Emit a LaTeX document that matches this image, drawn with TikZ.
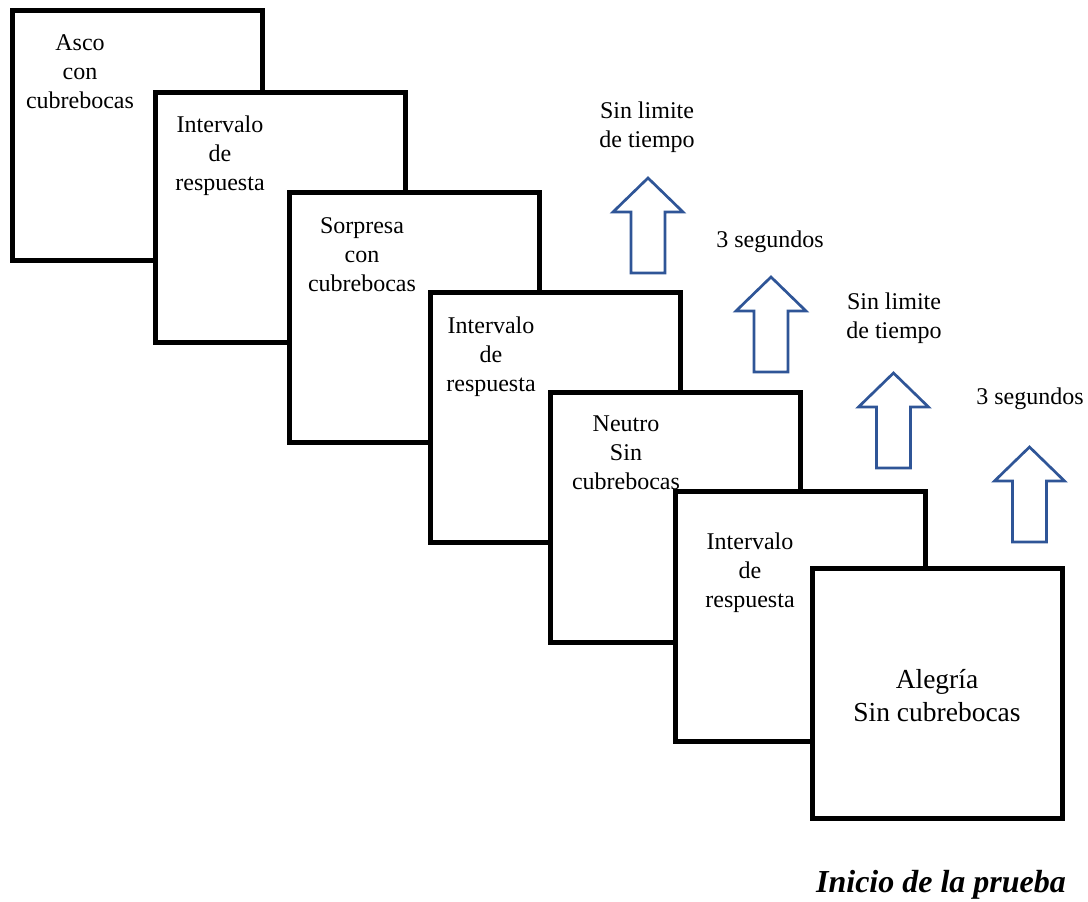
\documentclass[tikz,border=0pt]{standalone}
\usepackage{fontspec}
\setmainfont{Liberation Serif}
\definecolor{arrowblue}{RGB}{47,85,151}
\begin{document}
\begin{tikzpicture}[x=1pt,y=-1pt,
  card/.style={draw=black,fill=white,line width=5pt,minimum width=250pt,minimum height=250pt,inner sep=0pt,outer sep=0pt},
  cardtext/.style={align=center,inner sep=0pt,font=\fontsize{24}{29}\selectfont},
  bigtext/.style={align=center,inner sep=0pt,font=\fontsize{27.5}{33}\selectfont},
  lbl/.style={align=center,inner sep=0pt,font=\fontsize{24}{29}\selectfont},
  pics/uparrow/.style={code={
    \draw[arrowblue,line width=2.7pt,fill=white,line join=miter]
      (0,0) -- (35,34) -- (17,34) -- (17,95) -- (-17,95) -- (-17,34) -- (-35,34) -- cycle;
  }}
]
\useasboundingbox (0,0) rectangle (1088,902);

\node[card] (b1) at (137,135) {};
\node[cardtext] (t1) at (80,72) {Asco\\con\\cubrebocas};
\node[card] (b2) at (280,217) {};
\node[cardtext] (t2) at (220,156) {Intervalo\\de\\respuesta};
\node[card] (b3) at (414.5,317) {};
\node[cardtext] (t3) at (362,254.5) {Sorpresa\\con\\cubrebocas};
\node[card] (b4) at (555,417.5) {};
\node[cardtext] (t4) at (491,356.5) {Intervalo\\de\\respuesta};
\node[card] (b5) at (675,517) {};
\node[cardtext] (t5) at (626,452.5) {Neutro\\Sin\\cubrebocas};
\node[card] (b6) at (800.5,616) {};
\node[cardtext] (t6) at (750,572.5) {Intervalo\\de\\respuesta};
\node[card] (b7) at (937,693) {};
\node[bigtext] (t7) at (937,696) {Alegría\\Sin cubrebocas};

\pic at (648,178) {uparrow};
\pic at (771,277) {uparrow};
\pic at (893.5,373) {uparrow};
\pic at (1029.5,447) {uparrow};

\node[lbl] (l1) at (647,127.5) {Sin limite\\de tiempo};
\node[lbl,anchor=base] (l2) at (770,247.5) {3 segundos};
\node[lbl] (l3) at (894,318) {Sin limite\\de tiempo};
\node[lbl,anchor=base] (l4) at (1030,404.5) {3 segundos};

\node[inner sep=0pt,anchor=base,font=\fontsize{32}{38}\selectfont\bfseries\itshape] (title) at (941,892.5) {Inicio de la prueba};
\end{tikzpicture}
\end{document}
